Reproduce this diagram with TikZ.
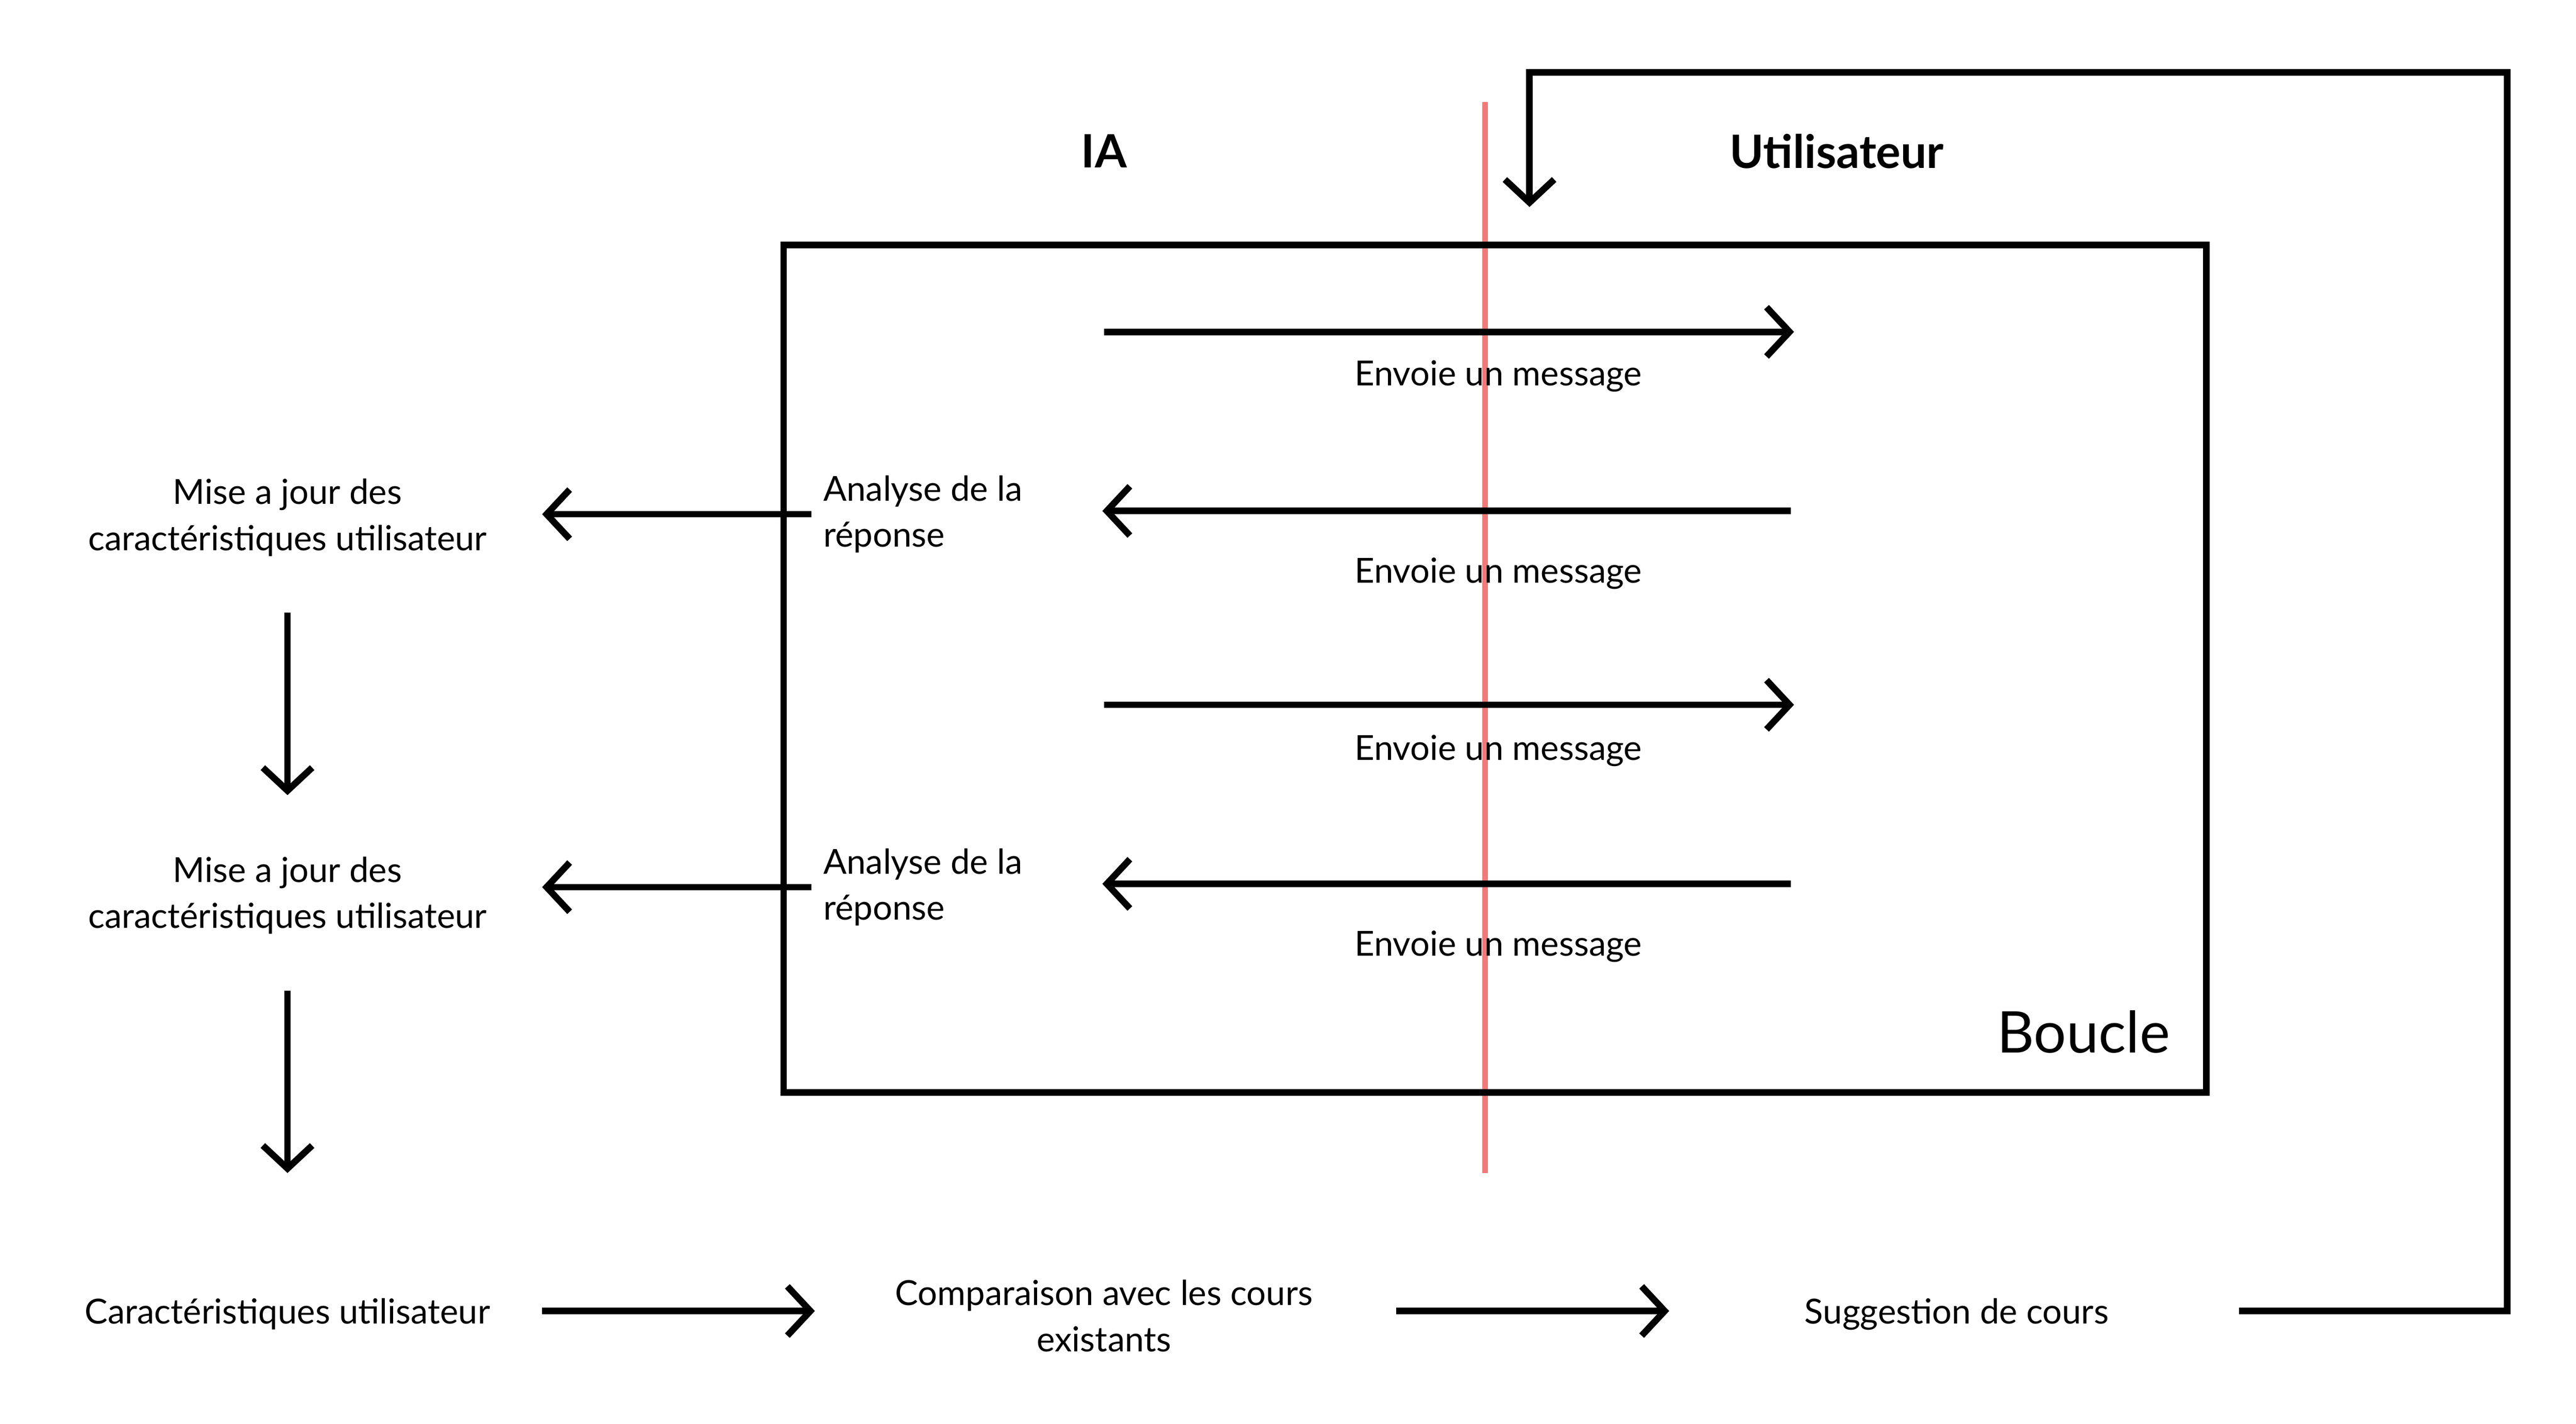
\documentclass[tikz,border=0pt]{standalone}
\usepackage{fontspec}
\setmainfont{Lato}
\usepackage{xcolor}
\usetikzlibrary{arrows.meta}
\definecolor{sep}{RGB}{245,120,120}

\begin{document}
\begin{tikzpicture}[x=1pt,y=-1pt,
  fl/.style={line width=4pt,-{Straight Barb[length=14pt,width=30pt,line width=4pt]}},
  txt/.style={font=\fontsize{21}{28}\selectfont,inner sep=0pt,align=center,yshift=-2pt},
  head/.style={font=\fontsize{28}{30}\selectfont\bfseries,inner sep=0pt}]
\useasboundingbox (0,0) rectangle (1568,866.7);

\node[head] (IA) at (672,92) {IA};
\node[head] (U) at (1118,92) {Utilisateur};

\draw[sep,line width=3.5pt] (904,62) -- (904,714);
\draw[line width=4pt] (477,149) rectangle (1343,665);
\node[font=\fontsize{35}{38}\selectfont,inner sep=0pt,anchor=east] (B) at (1321,628) {Boucle};

% messages
\coordinate (e1) at (672,202);  \coordinate (f1) at (1092,202);
\coordinate (e2) at (1090,311); \coordinate (f2) at (671,311);
\coordinate (e3) at (672,429);  \coordinate (f3) at (1092,429);
\coordinate (e4) at (1090,538); \coordinate (f4) at (671,538);
\draw[fl] (e1) -- (f1);
\draw[fl] (e2) -- (f2);
\draw[fl] (e3) -- (f3);
\draw[fl] (e4) -- (f4);
\node[txt] (m1) at (912,227) {Envoie un message};
\node[txt] (m2) at (912,347) {Envoie un message};
\node[txt] (m3) at (912,455) {Envoie un message};
\node[txt] (m4) at (912,574) {Envoie un message};

\node[txt,align=left,anchor=west] (R1) at (501,311) {Analyse de la\\réponse};
\node[txt,align=left,anchor=west] (R2) at (501,538) {Analyse de la\\réponse};

\node[txt] (M1) at (175,313) {Mise a jour des\\caractéristiques utilisateur};
\node[txt] (M2) at (175,543) {Mise a jour des\\caractéristiques utilisateur};
\node[txt] (C) at (175,798) {Caractéristiques utilisateur};
\node[txt] (K) at (672,799) {Comparaison avec les cours\\existants};
\node[txt] (S) at (1191,798) {Suggestion de cours};

\coordinate (r1) at (494,313); \coordinate (t1) at (330,313);
\coordinate (r2) at (494,540); \coordinate (t2) at (330,540);
\draw[fl] (r1) -- (t1);
\draw[fl] (r2) -- (t2);

\coordinate (d1) at (175,373); \coordinate (d2) at (175,603);
\draw[fl] (d1) -- (175,484);
\draw[fl] (d2) -- (175,714);

\coordinate (c1) at (330,798); \coordinate (k1) at (496,798);
\coordinate (c2) at (850,798); \coordinate (k2) at (1016,798);
\draw[fl] (c1) -- (k1);
\draw[fl] (c2) -- (k2);

\coordinate (sg) at (1363,798);
\coordinate (cr) at (1526,44);
\coordinate (top) at (931,126);
\draw[fl,line join=miter] (sg) -| (cr) -| (top);
\end{tikzpicture}
\end{document}
